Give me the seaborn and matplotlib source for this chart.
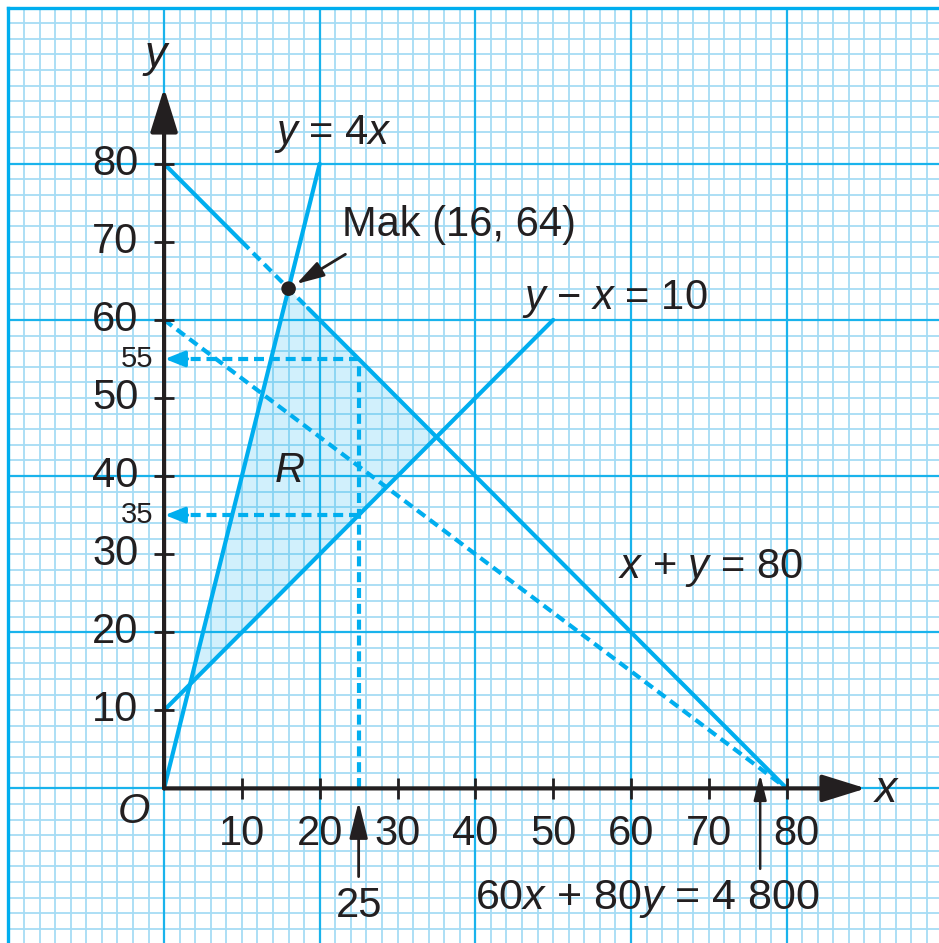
import seaborn as sns
import numpy as np
import pandas as pd
from matplotlib import pyplot as plt

# graph values
tick_vals = [10, 20, 30, 40, 50, 60, 70, 80]
tick_labels = ['10', '20', '30', '40', '50', '60', '70', '80']

line_4x_x = [0, 20]
line_4x_y = [0, 80]

sum80_solid_a_x = [0, 10]
sum80_solid_a_y = [80, 70]
sum80_dash_x = [10, 18.5]
sum80_dash_y = [70, 61.5]
sum80_solid_b_x = [18.5, 80]
sum80_solid_b_y = [61.5, 0]

diff10_x = [0, 50]
diff10_y = [10, 60]

obj_x = [0, 80]
obj_y = [60, 0]

region_x = [10 / 3, 16, 35]
region_y = [40 / 3, 64, 45]

max_pt = (16, 64)
x_read = 25
y_reads = [55, 35]
y_read_labels = ['55', '35']

cyan = '#00aeef'
ink = '#231f20'

sns.set_style('white')
plt.rcParams['font.family'] = ['Liberation Sans', 'DejaVu Sans']
plt.rcParams['mathtext.fontset'] = 'custom'
plt.rcParams['mathtext.rm'] = 'Liberation Sans'
plt.rcParams['mathtext.it'] = 'Liberation Sans:italic'

fig = plt.figure(figsize=(9.39, 9.43), dpi=100)
ax = fig.add_axes([0.009, 0.0, 0.992, 0.992])
ax.set_xlim(-20, 99.7)
ax.set_ylim(-19.8, 100)

# graph paper: fine lines every 2, bold lines every 20 drawn on top
fine = np.arange(-20, 101, 2)
bold = np.arange(-20, 101, 20)
ax.vlines(fine, -20, 100, color='#a6dcf5', lw=1.3, zorder=0)
ax.hlines(fine, -20, 100, color='#a6dcf5', lw=1.3, zorder=0)
ax.vlines(bold, -20, 100, color='#19b3ec', lw=1.6, zorder=0.5)
ax.hlines(bold, -20, 100, color='#19b3ec', lw=1.6, zorder=0.5)
ax.set_xticks([])
ax.set_yticks([])
for s in ['right', 'bottom']:
    ax.spines[s].set_visible(False)
for s in ['left', 'top']:
    ax.spines[s].set_color(cyan)
    ax.spines[s].set_linewidth(2.4)

# feasible region
ax.fill(region_x, region_y, color=cyan, alpha=0.18, lw=0, zorder=1)

solid = dict(color=cyan, lw=3, estimator=None, sort=False, zorder=3)
dashed = dict(color=cyan, lw=3, estimator=None, sort=False, zorder=3,
              linestyle=(0, (2.4, 1.4)))

sns.lineplot(x=line_4x_x, y=line_4x_y, ax=ax, **solid)
sns.lineplot(x=sum80_solid_a_x, y=sum80_solid_a_y, ax=ax, **solid)
sns.lineplot(x=sum80_dash_x, y=sum80_dash_y, ax=ax, **dashed)
sns.lineplot(x=sum80_solid_b_x, y=sum80_solid_b_y, ax=ax, **solid)
sns.lineplot(x=diff10_x, y=diff10_y, ax=ax, **solid)
sns.lineplot(x=obj_x, y=obj_y, ax=ax, **dashed)
sns.lineplot(x=[x_read, x_read], y=[0, y_reads[0]], ax=ax, **dashed)
for yv in y_reads:
    sns.lineplot(x=[x_read, 2.5], y=[yv, yv], ax=ax, **dashed)
    ax.annotate('', xy=(0.1, yv), xytext=(3.0, yv),
                arrowprops=dict(arrowstyle='-|>,head_length=1.0,head_width=0.4',
                                mutation_scale=12, color=cyan, lw=2.5,
                                shrinkA=0, shrinkB=0), zorder=3)

# axes with arrows
arrow_big = dict(arrowstyle='-|>,head_length=1.35,head_width=0.42',
                 mutation_scale=20, color=ink, lw=3,
                 shrinkA=0, shrinkB=0)
ax.annotate('', xy=(90.2, 0), xytext=(0, 0), arrowprops=arrow_big, zorder=4)
ax.annotate('', xy=(0, 89.7), xytext=(0, 0), arrowprops=arrow_big, zorder=4)
ax.vlines(tick_vals, -1.3, 1.3, color=ink, lw=2, zorder=4)
ax.hlines(tick_vals, -1.3, 1.3, color=ink, lw=2, zorder=4)

fs = 30
for v, lab in zip(tick_vals, tick_labels):
    xoff = 1.3 if v == 80 else 0
    ax.text(v + xoff, -5.8, lab, fontsize=fs, ha='center', va='center', color=ink, zorder=5)
    ax.text(-3.3, v, lab, fontsize=fs, ha='right', va='center', color=ink, zorder=5)
for yv, lab in zip(y_reads, y_read_labels):
    ax.text(-1.4, yv, lab, fontsize=21, ha='right', va='center', color=ink, zorder=5)

ax.text(-3.9, -3.0, '$O$', fontsize=fs, ha='center', va='center', color=ink)
ax.text(92.8, -0.3, '$x$', fontsize=fs + 2, ha='center', va='center', color=ink)
ax.text(-1.0, 93.6, '$y$', fontsize=fs + 2, ha='center', va='center', color=ink)

# reading arrows under the axis
small_arrow = dict(arrowstyle='-|>,head_length=1.4,head_width=0.35',
                   mutation_scale=16, color=ink, lw=2, shrinkA=0, shrinkB=0)
ax.annotate('', xy=(x_read, -1.7), xytext=(x_read, -11.3), arrowprops=small_arrow, zorder=5)
ax.annotate('', xy=(76.6, 1.8), xytext=(76.6, -10.3),
            arrowprops=dict(small_arrow, mutation_scale=11, lw=1.8), zorder=5)
ax.text(x_read, -15.1, '25', fontsize=fs, ha='center', va='center', color=ink)
ax.text(62.1, -14.2, '60$x$ + 80$y$ = 4 800', fontsize=31, ha='center', va='center', color=ink)

# max point
sns.scatterplot(x=[max_pt[0]], y=[max_pt[1]], ax=ax, color=ink, s=110,
                edgecolor='none', zorder=6)
ax.annotate('', xy=(17.0, 64.6), xytext=(23.3, 68.4),
            arrowprops=dict(arrowstyle='-|>,head_length=1.2,head_width=0.35',
                            mutation_scale=14, color=ink, lw=2,
                            shrinkA=0, shrinkB=0), zorder=6)
ax.text(22.9, 72.2, 'Mak (16, 64)', fontsize=fs, ha='left', va='center', color=ink)

# line labels
ax.text(21.7, 83.8, '$y$ = 4$x$', fontsize=fs, ha='center', va='center', color=ink)
ax.text(57.9, 62.7, '$y$ − $x$ = 10', fontsize=fs, ha='center', va='center', color=ink)
ax.text(70.2, 28.2, '$x$ + $y$ = 80', fontsize=fs, ha='center', va='center', color=ink)
ax.text(16.1, 40.6, '$R$', fontsize=fs, ha='center', va='center', color=ink)

ax.set_xlabel('')
ax.set_ylabel('')
fig.savefig('out.png', dpi=100)
